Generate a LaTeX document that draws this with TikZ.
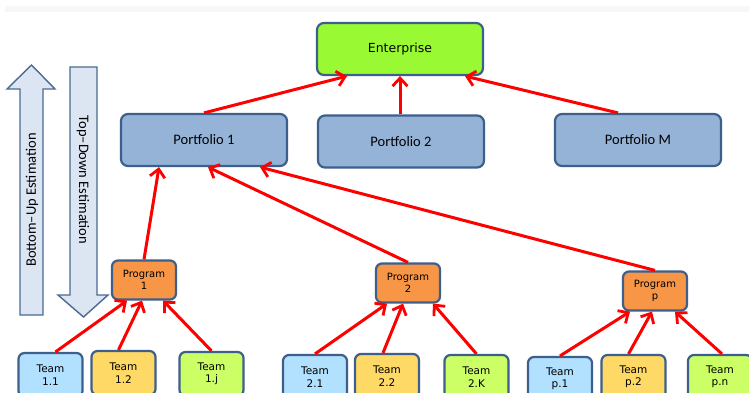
\documentclass[tikz,border=0pt]{standalone}
\usepackage{fontspec}
\setmainfont{Carlito}
\newfontfamily\dvs{DejaVu Sans}
\usetikzlibrary{arrows.meta}
\definecolor{bord}{RGB}{60,95,140}
\definecolor{entfill}{RGB}{153,250,51}
\definecolor{portfill}{RGB}{149,179,215}
\definecolor{progfill}{RGB}{247,150,70}
\definecolor{tblue}{RGB}{178,224,255}
\definecolor{tyellow}{RGB}{255,217,102}
\definecolor{tgreen}{RGB}{204,255,102}
\definecolor{estfill}{RGB}{220,230,242}
\definecolor{estbord}{RGB}{74,106,148}
\tikzset{
  box/.style={draw=bord, line width=2.2pt, rounded corners=7pt, align=center, inner sep=0pt},
  entbox/.style={box, fill=entfill, minimum width=166pt, minimum height=52pt, font=\dvs\fontsize{12.5}{14}\selectfont},
  portbox/.style={box, fill=portfill, minimum width=166pt, minimum height=52pt, font=\fontsize{14.5}{16}\selectfont},
  progbox/.style={box, fill=progfill, minimum width=64pt, minimum height=39pt, rounded corners=6pt, font=\dvs\fontsize{10}{12.5}\selectfont},
  teambox/.style={box, minimum width=64pt, minimum height=44pt, rounded corners=6pt, font=\dvs\fontsize{10.5}{12.5}\selectfont},
  redarrow/.style={draw=red, line width=3pt, -{Straight Barb[length=8pt,width=15pt,line width=2.8pt]}},
  estarrow/.style={draw=estbord, line width=1.4pt, fill=estfill, line join=miter},
  estlabel/.style={font=\fontsize{14.5}{16}\selectfont, inner sep=0pt}
}
\begin{document}
\begin{tikzpicture}[x=1pt, y=-1pt]
\useasboundingbox (0,0) rectangle (749,392);
\clip (0,0) rectangle (749,392);
\fill[white] (0,0) rectangle (749,392);
\fill[gray!6] (5,6) rectangle (749,12);

% estimation arrows
\draw[estarrow] (20,315) -- (20,89) -- (7,89) -- (31.5,65) -- (55,89) -- (43,89) -- (43,315) -- cycle;
\draw[estarrow] (70,67) -- (97,67) -- (97,295) -- (108,295) -- (83.5,317) -- (58,295) -- (70,295) -- cycle;
\node[estlabel, rotate=90] (bu) at (32,200) {Bottom–Up Estimation};
\node[estlabel, rotate=-90] (td) at (83,180) {Top–Down Estimation};

% nodes
\node[entbox] (ent) at (400,49) {Enterprise};
\node[portbox] (pf1) at (204,140) {Portfolio 1};
\node[portbox] (pf2) at (401,141.5) {Portfolio 2};
\node[portbox] (pfm) at (638,140) {Portfolio M};

\node[progbox] (pg1) at (144,280) {Program\\1};
\node[progbox] (pg2) at (408,283) {Program\\2};
\node[progbox] (pgp) at (655,291) {Program\\p};

\node[teambox, fill=tblue]   (t11) at (50.5,375) {Team\\1.1};
\node[teambox, fill=tyellow] (t12) at (123.5,373) {Team\\1.2};
\node[teambox, fill=tgreen]  (t1j) at (211.5,374) {Team\\1.j};
\node[teambox, fill=tblue]   (t21) at (315,377) {Team\\2.1};
\node[teambox, fill=tyellow] (t22) at (387,376) {Team\\2.2};
\node[teambox, fill=tgreen]  (t2k) at (476.5,377) {Team\\2.K};
\node[teambox, fill=tblue]   (tp1) at (560,379) {Team\\p.1};
\node[teambox, fill=tyellow] (tp2) at (633.5,377) {Team\\p.2};
\node[teambox, fill=tgreen]  (tpn) at (720,377) {Team\\p.n};

% connectors
\draw[redarrow] (pf1.north) -- ([xshift=-53pt]ent.south);
\draw[redarrow] ([xshift=-1pt]pf2.north) -- (ent.south);
\draw[redarrow] ([xshift=-20pt]pfm.north) -- ([xshift=65pt]ent.south);

\draw[redarrow] (pg1.north) -- ([xshift=-45pt]pf1.south);
\draw[redarrow] (pg2.north) -- ([xshift=4pt]pf1.south);
\draw[redarrow] (pgp.north) -- ([xshift=56pt]pf1.south);

\draw[redarrow] ([xshift=5pt]t11.north) -- ([xshift=-17pt]pg1.south);
\draw[redarrow] ([xshift=-5pt]t12.north) -- ([xshift=-2pt]pg1.south);
\draw[redarrow] (t1j.north) -- ([xshift=19pt]pg1.south);

\draw[redarrow] (t21.north) -- ([xshift=-21pt]pg2.south);
\draw[redarrow] ([xshift=-4pt]t22.north) -- ([xshift=-5pt]pg2.south);
\draw[redarrow] (t2k.north) -- ([xshift=25pt]pg2.south);

\draw[redarrow] (tp1.north) -- ([xshift=-25pt]pgp.south);
\draw[redarrow] ([xshift=-5pt]tp2.north) -- ([xshift=-3pt]pgp.south);
\draw[redarrow] ([xshift=2pt]tpn.north) -- ([xshift=20pt]pgp.south);
\end{tikzpicture}
\end{document}
